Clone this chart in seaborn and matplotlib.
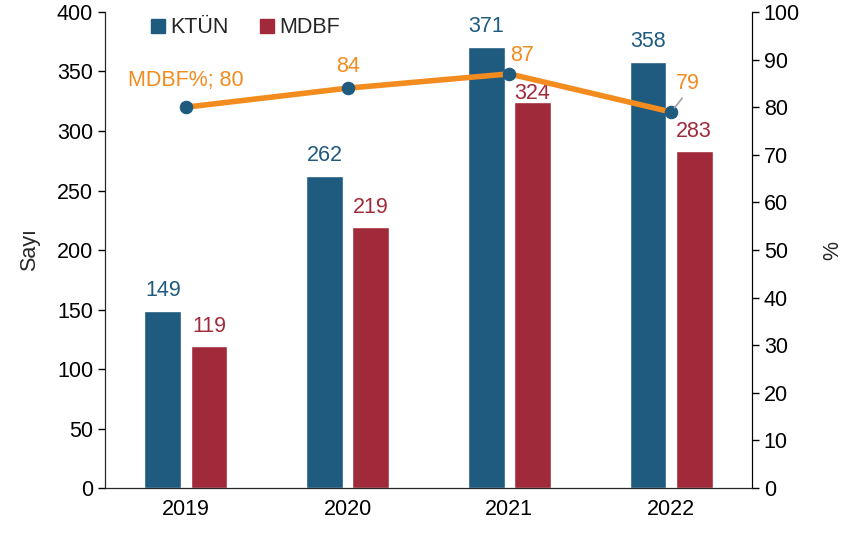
import numpy as np
import pandas as pd
import seaborn as sns
import matplotlib.pyplot as plt
from matplotlib.lines import Line2D

# chart values
years = ['2019', '2020', '2021', '2022']
ktun = [149, 262, 371, 358]
mdbf = [119, 219, 324, 283]
mdbf_pct = [80, 84, 87, 79]

blue = '#1F5A7F'
red = '#A12A3A'
orange = '#F28C1E'
fs = 15.5

sns.set_style('white')
plt.rcParams['font.family'] = ['Liberation Sans', 'DejaVu Sans']
plt.rcParams['font.size'] = fs

df = pd.DataFrame({
    'year': years * 2,
    'value': ktun + mdbf,
    'series': ['KTÜN'] * len(years) + ['MDBF'] * len(years),
})

fig, ax = plt.subplots(figsize=(8.43, 5.33), dpi=100)
fig.subplots_adjust(left=0.1246, right=0.892, bottom=0.0844, top=0.9775)

sns.barplot(data=df, x='year', y='value', hue='series', palette=[blue, red],
            width=0.57, gap=0.2, ax=ax, legend=False, saturation=1)

ax.set_ylim(0, 400)
ax.set_yticks(range(0, 401, 50))
ax.set_xlim(-0.5, len(years) - 0.5)
ax.set_xlabel('')
ax.set_ylabel('Sayı', fontsize=fs, labelpad=12)
ax.tick_params(axis='both', direction='out', length=5, width=1, colors='black', labelsize=fs)
ax.tick_params(axis='x', length=0, pad=8)
for side in ['left', 'bottom']:
    ax.spines[side].set_color('black')
ax.spines['top'].set_visible(False)

# bar value labels (the 2021 MDBF label sits closer to its bar, under the line)
ax.bar_label(ax.containers[0], padding=7, color=blue, fontsize=fs)
red_texts = ax.bar_label(ax.containers[1], padding=7, color=red, fontsize=fs)
red_texts[2].set_position((0, -1))

# secondary axis with percentage line
ax2 = ax.twinx()
pos = np.arange(len(years))
sns.lineplot(x=pos, y=mdbf_pct, ax=ax2, color=orange, linewidth=4,
             marker='o', markersize=9, markerfacecolor=blue, markeredgecolor=blue)
ax2.set_ylim(0, 100)
ax2.set_yticks(range(0, 101, 10))
ax2.set_ylabel('%', fontsize=fs, labelpad=16)
ax2.tick_params(axis='y', direction='out', length=5, width=1, colors='black', labelsize=fs)
ax2.spines['top'].set_visible(False)
ax2.spines['right'].set_color('black')
ax2.set_xlim(-0.5, len(years) - 0.5)

# line labels
ax2.annotate(f'MDBF%; {mdbf_pct[0]}', (pos[0], mdbf_pct[0]), xytext=(0, 12),
             textcoords='offset points', ha='center', va='bottom', color=orange, fontsize=fs)
ax2.annotate(str(mdbf_pct[1]), (pos[1], mdbf_pct[1]), xytext=(0, 8),
             textcoords='offset points', ha='center', va='bottom', color=orange, fontsize=fs)
ax2.annotate(str(mdbf_pct[2]), (pos[2], mdbf_pct[2]), xytext=(9, 6),
             textcoords='offset points', ha='center', va='bottom', color=orange, fontsize=fs)
ax2.annotate(str(mdbf_pct[3]), (pos[3], mdbf_pct[3]), xytext=(12, 13),
             textcoords='offset points', ha='center', va='bottom', color=orange, fontsize=fs,
             arrowprops=dict(arrowstyle='-', color='#A6A6A6', lw=1.3, shrinkA=1, shrinkB=4,
                             relpos=(0.45, 0.05)))

handles = [Line2D([], [], marker='s', linestyle='', color=blue, markersize=10),
           Line2D([], [], marker='s', linestyle='', color=red, markersize=10)]
ax.legend(handles, ['KTÜN', 'MDBF'], loc='upper left', bbox_to_anchor=(0.04, 1.03),
          ncol=2, frameon=False, handlelength=0.7, handletextpad=0.25, columnspacing=1.4,
          fontsize=fs)

fig.savefig('out.png', dpi=100)
